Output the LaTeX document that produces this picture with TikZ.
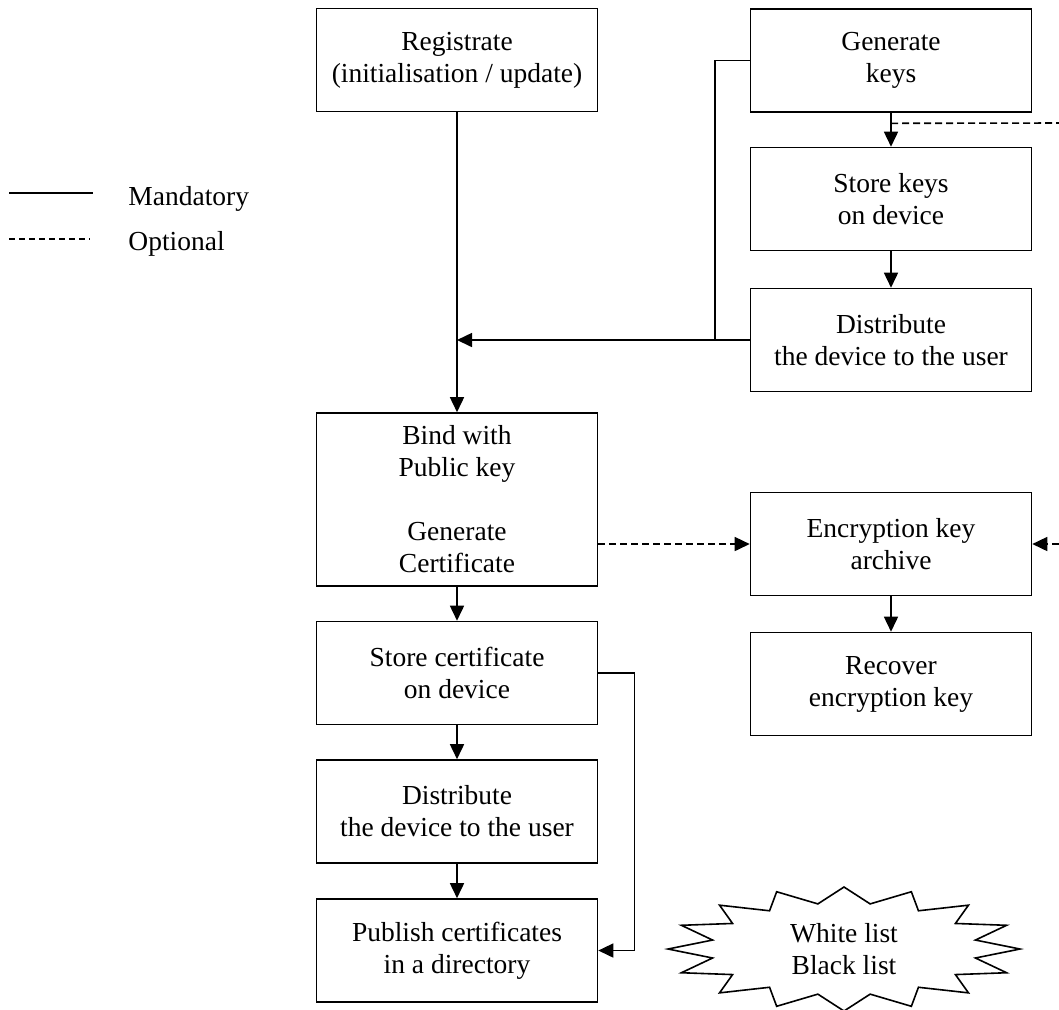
\documentclass[tikz,border=0pt]{standalone}
\usepackage{fontspec}
\setmainfont{Liberation Serif}
\usetikzlibrary{shapes,arrows.meta,calc}

\tikzset{
  box/.style={draw, line width=0.8pt, minimum width=140.5pt, minimum height=51.5pt, align=center, inner sep=2pt},
  link/.style={line width=0.8pt},
  conn/.style={link, -{Triangle[length=7.5pt,width=7pt]}},
  opt/.style={dash pattern=on 3.5pt off 2pt}
}

\begin{document}
\begin{tikzpicture}[x=0.5pt, y=-0.5pt, font=\fontsize{13.75}{16}\selectfont]
\useasboundingbox (0,0) rectangle (1059,1009);
% legend
\draw [link] (9,193) -- (93,193);
\draw [link, dash pattern=on 3pt off 2pt] (9,239) -- (90,239);
\node[anchor=base west, inner sep=0pt] (mand) at (128,205) {Mandatory};
\node[anchor=base west, inner sep=0pt] (optn) at (128,250) {Optional};
% left column: certificate
\node[box] (reg) at (457,60) {Registrate\\(initialisation / update)};
\node[box, minimum height=86.5pt] (bind) at (457,499.5) {Bind with\\Public key\\[\baselineskip]Generate\\Certificate};
\node[box] (storec) at (457,673) {Store certificate\\on device};
\node[box] (distl) at (457,811.5) {Distribute\\the device to the user};
\node[box] (publish) at (457,950.5) {Publish certificates\\in a directory};
% right column: keys
\node[box] (gen) at (891,60.5) {Generate\\keys};
\node[box] (storek) at (891,199) {Store keys\\on device};
\node[box] (distr) at (891,340) {Distribute\\the device to the user};
\node[box] (archive) at (891,544) {Encryption key\\archive};
\node[box] (recover) at (891,684) {Recover\\encryption key};
% lists
\node[align=center] (lists) at (844,949) {White list\\Black list};
\draw [link, shift={(lists.center)}] (0:176 and 62)
  \foreach \a in {0,22.5,...,337.5} { -- (\a+11.25:134 and 46) -- (\a+22.5:176 and 62) } -- cycle;
% mandatory flow
\draw [conn] (reg) -- (bind);
\draw [conn] (bind) -- (storec);
\draw [conn] (storec) -- (distl);
\draw [conn] (distl) -- (publish);
\draw [conn] (gen) -- (storek);
\draw [conn] (storek) -- (distr);
\draw [conn] (archive) -- (recover);
\coordinate (join) at ([xshift=-17.5pt]distr.west);
\draw [link] (gen.west) -| (join);
\draw [conn] (distr.west) -- (reg.south |- distr.west);
\draw [conn] (storec.east) -- ++(18pt,0) |- (publish.east);
% optional flow
\coordinate (tap) at ($(gen.south)!0.31!(storek.north)$);
\coordinate (keyout) at (1059,123);
\coordinate (keyin) at (archive.east -| keyout);
\draw [link, opt] (tap) -- (keyout);
\draw [conn, opt] (keyin) -- (archive.east);
\draw [conn, opt] (bind.east |- archive.west) -- (archive.west);
\end{tikzpicture}
\end{document}
